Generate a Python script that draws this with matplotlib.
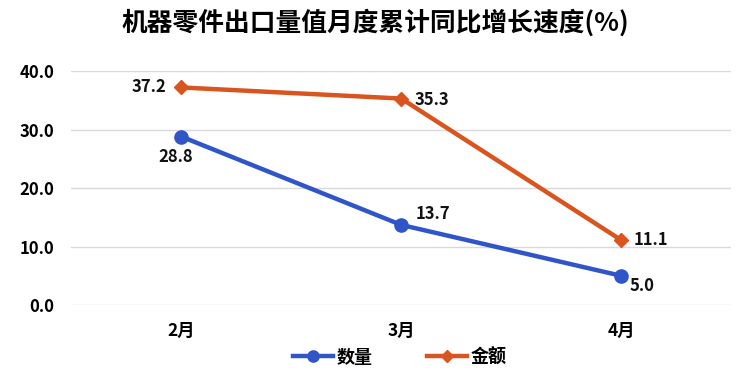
import matplotlib
matplotlib.use("Agg")
import matplotlib.pyplot as plt

plt.rcParams['font.family'] = ['Noto Sans CJK SC', 'DejaVu Sans']

months = ["2月", "3月", "4月"]
qty = [28.8, 13.7, 5.0]
amount = [37.2, 35.3, 11.1]
yticks = [0, 10, 20, 30, 40]
title = "机器零件出口量值月度累计同比增长速度(%)"

fig = plt.figure(figsize=(7.5, 3.78), dpi=100)
ax = fig.add_axes([0.095, 0.193, 0.88, 0.619])

x = list(range(len(months)))
blue = "#2F55C9"
orange = "#D9541E"
l1, = ax.plot(x, qty, color=blue, lw=3.2, marker='o', ms=9.5, label="数量", zorder=3)
l2, = ax.plot(x, amount, color=orange, lw=3.2, marker='D', ms=7, label="金额", zorder=3)

ax.set_xlim(-0.5, 2.5)
ax.set_ylim(0, 40)
ax.set_yticks(yticks)
ax.set_yticklabels([f"{v:.1f}" for v in yticks], fontsize=12, fontweight='bold')
ax.set_xticks(x)
ax.set_xticklabels(months, fontsize=12.5, fontweight='bold')
ax.tick_params(length=0)
ax.tick_params(axis='y', pad=12)
ax.tick_params(axis='x', pad=12)
ax.grid(axis='y', color='#d9d9d9', lw=1)
ax.set_axisbelow(True)
for s in ax.spines.values():
    s.set_visible(False)

kw = dict(fontsize=12, fontweight='bold', color='#111111', ha='center', va='center')
offsets_q = [(-4, -15), (23, 8), (15, -7)]
offsets_a = [(-23, 0), (22, -1), (21, 0)]
for i, v in enumerate(qty):
    ax.annotate(f"{v:.1f}", (i, v), xytext=offsets_q[i], textcoords='offset points', **kw)
for i, v in enumerate(amount):
    ax.annotate(f"{v:.1f}", (i, v), xytext=offsets_a[i], textcoords='offset points', **kw)

fig.text(0.5, 0.94, title, ha='center', va='center', fontsize=18.5, fontweight='bold')

leg = fig.legend(handles=[l1, l2], loc='center', bbox_to_anchor=(0.533, 0.055), ncol=2,
                 frameon=False, handlelength=2.2, columnspacing=3.0, handletextpad=0.2,
                 markerscale=0.85, prop={'weight': 'bold', 'size': 13})

fig.savefig("out.png", dpi=100)
